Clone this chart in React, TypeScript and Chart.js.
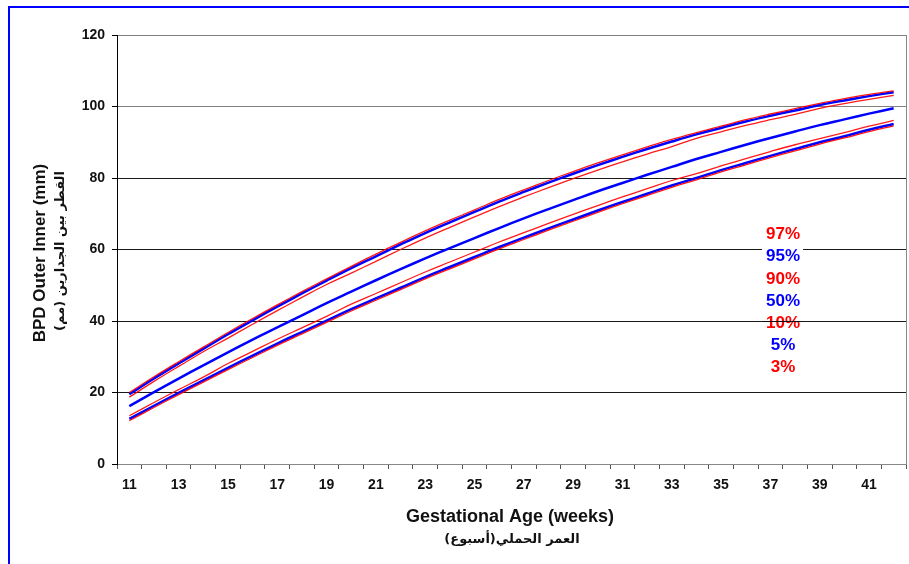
import React, { useEffect, useRef } from "react";
import { Chart, registerables } from "chart.js";

Chart.register(...registerables);

const weeks = ["11","12","13","14","15","16","17","18","19","20","21","22","23","24","25","26","27","28","29","30","31","32","33","34","35","36","37","38","39","40","41","42"];

const p97 = [20.0,24.4,28.6,32.7,36.8,40.7,44.5,48.2,51.8,55.3,58.7,62.0,65.2,68.2,71.1,74.0,76.7,79.3,81.8,84.2,86.5,88.7,90.8,92.7,94.5,96.3,97.9,99.4,100.9,102.2,103.4,104.4];
const p95 = [19.5,23.9,28.1,32.2,36.3,40.2,44.0,47.7,51.3,54.8,58.1,61.4,64.6,67.6,70.5,73.4,76.1,78.7,81.2,83.6,85.9,88.1,90.2,92.2,94.0,95.8,97.4,98.9,100.4,101.7,102.9,104.0];
const p90 = [18.7,23.1,27.3,31.4,35.2,39.1,42.9,46.6,50.2,53.4,56.7,60.0,63.2,66.2,69.1,72.0,74.7,77.3,79.8,82.2,84.5,86.7,88.8,91.1,92.9,94.7,96.3,97.8,99.5,100.8,102.0,103.1];
const p50 = [16.2,20.1,23.9,27.6,31.2,34.8,38.2,41.6,45.0,48.2,51.4,54.5,57.5,60.4,63.2,66.0,68.7,71.3,73.8,76.3,78.6,80.9,83.1,85.3,87.3,89.3,91.2,93.0,94.8,96.4,98.0,99.5];
const p10 = [13.5,17.2,20.8,24.3,28.1,31.5,34.9,38.1,41.3,44.7,47.7,50.7,53.7,56.5,59.3,62.1,64.7,67.3,69.8,72.3,74.7,77.0,79.3,81.2,83.4,85.4,87.4,89.3,91.0,92.7,94.5,96.1];
const p5 = [12.6,16.3,19.9,23.4,26.9,30.3,33.7,36.9,40.1,43.3,46.3,49.3,52.3,55.1,57.9,60.7,63.3,65.9,68.4,70.9,73.3,75.6,77.9,80.0,82.2,84.2,86.2,88.1,90.0,91.7,93.5,95.1];
const p3 = [12.1,15.8,19.4,22.9,26.4,29.8,33.2,36.4,39.6,42.8,45.8,48.8,51.8,54.6,57.4,60.2,62.8,65.4,67.9,70.4,72.8,75.1,77.4,79.5,81.7,83.7,85.7,87.6,89.5,91.2,93.0,94.6];

const legendLabels = ["97%","95%","90%","50%","10%","5%","3%"];
const legendColors = ["#ff0000","#0000ff","#ff0000","#0000ff","#ff0000","#0000ff","#ff0000"];

const yTitle = "BPD Outer Inner (mm)";
const yTitleAr = "القطر بين الجدارين (مم)";
const xTitle = "Gestational Age (weeks)";
const xTitleAr = "العمر الحملي(أسبوع)";

const RED = "rgba(255,0,0,0.9)";
const BLUE = "#0000ff";

export default function App() {
  const ref = useRef<HTMLCanvasElement | null>(null);

  useEffect(() => {
    document.body.style.margin = "0";
    const canvas = ref.current;
    if (!canvas) return;
    Chart.defaults.font.family = "'Liberation Sans', Arial, sans-serif";

    const deco = {
      id: "deco",
      beforeDraw(chart: any) {
        const ctx = chart.ctx;
        ctx.save();
        ctx.fillStyle = "#ffffff";
        ctx.fillRect(0, 0, chart.width, chart.height);
        ctx.fillStyle = "#0000ff";
        ctx.fillRect(8, 6, chart.width - 8, 2);
        ctx.fillRect(8, 6, 2, chart.height - 6);
        ctx.restore();
      },
      afterDraw(chart: any) {
        const ctx = chart.ctx;
        const a = chart.chartArea;
        const ys = chart.scales.y;
        ctx.save();
        // right border of plot
        ctx.strokeStyle = "#888";
        ctx.lineWidth = 1;
        ctx.beginPath();
        ctx.moveTo(a.right + 0.5, a.top);
        ctx.lineTo(a.right + 0.5, a.bottom);
        ctx.stroke();

        // legend labels
        ctx.fillStyle = "#ffffff";
        ctx.fillRect(762, 222, 41, 156);
        ctx.font = "bold 17px 'Liberation Sans', Arial, sans-serif";
        ctx.textAlign = "center";
        ctx.textBaseline = "middle";
        legendLabels.forEach((t, i) => {
          ctx.fillStyle = legendColors[i];
          ctx.fillText(t, 783, 234.5 + i * 22.2);
        });
        const y40 = Math.round(ys.getPixelForValue(40)) + 0.5;
        ctx.strokeStyle = "#111";
        ctx.beginPath();
        ctx.moveTo(762, y40);
        ctx.lineTo(803, y40);
        ctx.stroke();

        // axis titles
        ctx.fillStyle = "#111";
        ctx.textAlign = "center";
        ctx.textBaseline = "middle";
        ctx.font = "bold 18px 'Liberation Sans', Arial, sans-serif";
        ctx.fillText(xTitle, 510, 517);
        ctx.font = "bold 13px 'DejaVu Sans', sans-serif";
        ctx.direction = "rtl";
        ctx.fillText(xTitleAr, 512, 540);
        ctx.direction = "ltr";

        ctx.save();
        ctx.translate(40, 253);
        ctx.rotate(-Math.PI / 2);
        ctx.font = "bold 17px 'Liberation Sans', Arial, sans-serif";
        ctx.fillText(yTitle, 0, 0);
        ctx.restore();

        ctx.save();
        ctx.translate(61, 251);
        ctx.rotate(-Math.PI / 2);
        ctx.font = "bold 13px 'DejaVu Sans', sans-serif";
        ctx.direction = "rtl";
        ctx.fillText(yTitleAr, 0, 0);
        ctx.restore();

        ctx.restore();
      },
    };

    const mk = (data: number[], color: string, width: number) => ({
      data,
      borderColor: color,
      borderWidth: width,
      pointRadius: 0,
      fill: false,
      tension: 0.4,
    });

    const chart = new Chart(canvas, {
      type: "line",
      data: {
        labels: weeks,
        datasets: [
          mk(p97, RED, 1.3),
          mk(p90, RED, 1.3),
          mk(p10, RED, 1.3),
          mk(p3, RED, 1.3),
          mk(p95, BLUE, 2.5),
          mk(p50, BLUE, 2.5),
          mk(p5, BLUE, 2.5),
        ],
      },
      options: {
        animation: false,
        responsive: false,
        maintainAspectRatio: false,
        layout: { padding: { top: 35, right: 3, left: 0, bottom: 0 } },
        plugins: { legend: { display: false }, tooltip: { enabled: false } },
        scales: {
          x: {
            type: "category",
            offset: true,
            grid: {
              offset: true,
              drawOnChartArea: false,
              drawTicks: true,
              tickLength: 5,
              color: "#777",
              tickColor: "#555",
            },
            border: { display: true, color: "#888", width: 1 },
            ticks: {
              autoSkip: false,
              maxRotation: 0,
              padding: 8,
              color: "#111",
              font: { size: 14, weight: "bold" },
              callback: (_v: any, i: number) => (i % 2 === 0 ? weeks[i] : ""),
            },
            afterFit: (s: any) => {
              s.height = 100;
            },
          },
          y: {
            min: 0,
            max: 120,
            ticks: {
              stepSize: 20,
              padding: 7,
              color: "#111",
              font: { size: 14, weight: "bold" },
            },
            grid: {
              color: (c: any) => {
                const v = c.tick ? c.tick.value : 0;
                if (v === 0) return "rgba(0,0,0,0)";
                if (v >= 100) return "#808080";
                return "#1a1a1a";
              },
              tickLength: 5,
              tickColor: "#000",
              lineWidth: 1,
            },
            border: { display: true, color: "#000", width: 1 },
            afterFit: (s: any) => {
              s.width = 117;
            },
          },
        },
      },
      plugins: [deco],
    } as any);

    return () => chart.destroy();
  }, []);

  return (
    <div style={{ width: 909, height: 564 }}>
      <canvas ref={ref} width={909} height={564} style={{ display: "block" }} />
    </div>
  );
}
